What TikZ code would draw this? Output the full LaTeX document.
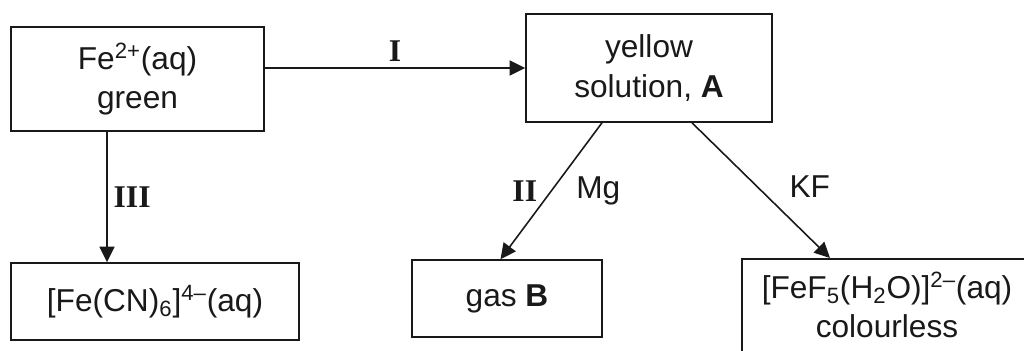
\documentclass[tikz,border=0pt]{standalone}
\usepackage{fontspec}
\setmainfont{Liberation Sans}
\newfontfamily\romanfont{Liberation Serif}
\usetikzlibrary{arrows.meta, positioning}

\begin{document}
\begin{tikzpicture}[
    >={Triangle[length=3.1mm, width=3mm]},
    font=\fontsize{18}{22.5}\selectfont,
    species/.style={
        rectangle, draw=black!90, line width=0.9pt,
        align=center, inner sep=0pt, text=black!90
    },
    route/.style={->, line width=0.9pt, black!90},
    stage/.style={font=\fontsize{18}{22.5}\selectfont\romanfont\bfseries, text=black!90},
    reagent/.style={text=black!90}
]

\useasboundingbox (0,0) rectangle (20.48,-7.02);

\node (fe) [species, minimum width=5.06cm, minimum height=2.08cm] at (2.75,-1.58)
    {Fe\textsuperscript{2+}(aq)\\green};

\node (a) [species, minimum width=4.92cm, minimum height=2.16cm] at (12.98,-1.36)
    {yellow\\solution, \textbf{A}};

\node (cn) [species, minimum width=5.76cm, minimum height=1.54cm] at (3.10,-6.03)
    {[Fe(CN)\textsubscript{6}]\textsuperscript{4\textendash}(aq)};

\node (gas) [species, minimum width=3.80cm, minimum height=1.54cm] at (10.14,-5.97)
    {gas \textbf{B}};

% box runs past the right and lower edges
\node (ff) [species, minimum width=5.80cm, anchor=north, inner ysep=0.26cm, text depth=1cm] at (17.74,-5.16)
    {[FeF\textsubscript{5}(H\textsubscript{2}O)]\textsuperscript{2\textendash}(aq)\\colourless};

\draw[route] (fe.east |- a.west) -- node[stage, above] {I} (a.west);

\draw[route] ([xshift=-0.61cm]fe.south) --
    node[stage, right] {III} ([xshift=-0.61cm]fe.south |- cn.north);

\draw[route] ([xshift=-0.94cm]a.south) --
    node[stage, left, xshift=-1.5mm] {II}
    node[reagent, right, xshift=3.7mm] {Mg} ([xshift=-0.13cm]gas.north);

\draw[route] ([xshift=0.86cm]a.south) --
    node[reagent, right, xshift=4.4mm, yshift=0.8mm] {KF} ([xshift=-1.14cm]ff.north);

\end{tikzpicture}
\end{document}
